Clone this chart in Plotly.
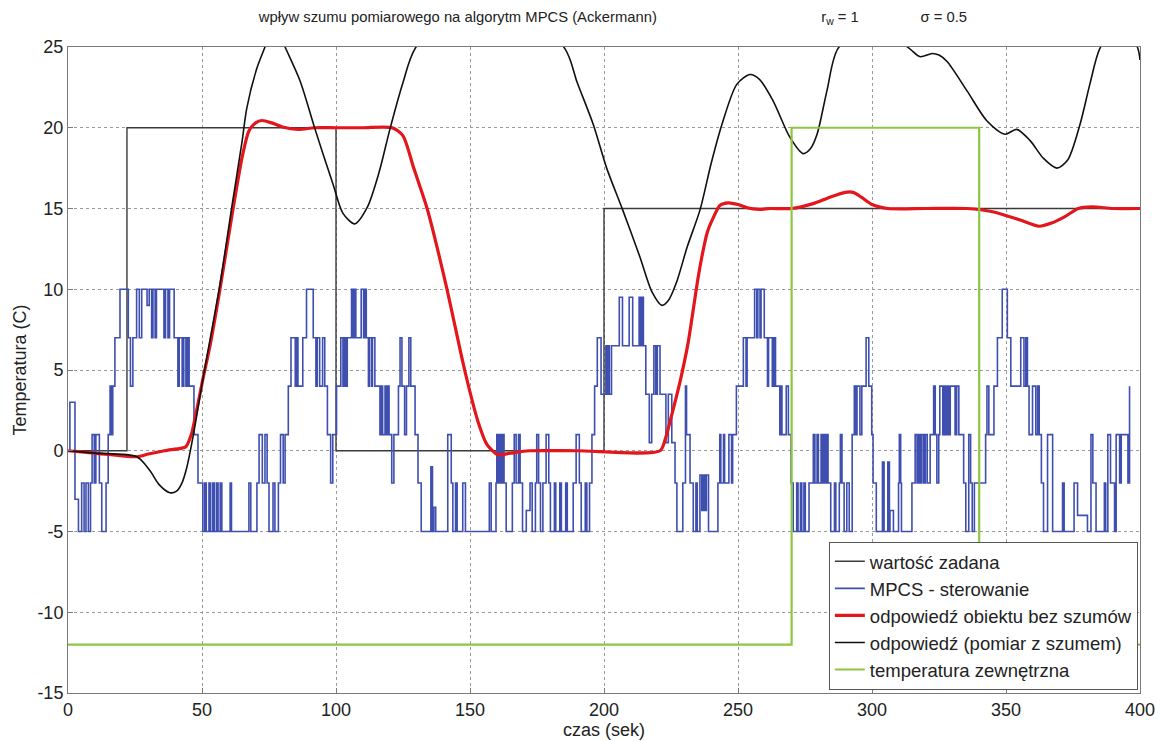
import plotly.graph_objects as go

# ---------------- data ----------------
# setpoint (wartość zadana)
sp_t = [0, 22, 22, 100, 100, 200, 200, 400]
sp_v = [0, 0, 20, 20, 0, 0, 15, 15]

# external temperature (temperatura zewnętrzna)
ext_t = [0, 270, 270, 340, 340, 400]
ext_v = [-12, -12, 20, 20, -12, -12]

# control signal (MPCS - sterowanie), step changes
u_t = [0, 0.7, 2.6, 3.9, 5.1, 6.0, 6.7, 7.6, 8.4, 9.0, 9.8, 10.4, 11.7, 12.6, 14.2, 15.0, 15.7, 16.2, 16.7, 17.5,
       19.4, 22.5, 23.3, 24.2, 25.6, 26.6, 27.5, 29.5, 30.3, 31.2, 31.7, 32.5, 33.0, 35.8, 36.4, 37.3, 37.9, 39.6,
       41.0, 41.5, 42.6, 43.2, 44.0, 44.6, 45.2, 47.0, 48.5,
       50.3, 51.0, 51.6, 52.6, 53.2, 54.0, 54.6, 55.4, 56.0, 56.8, 57.4, 60.5, 61.0, 67.5, 68.2, 70.5, 71.3, 72.5,
       73.5, 74.3, 75.0, 76.5, 77.2, 78.5, 79.3, 80.3, 81.0, 82.2, 83.2, 84.8, 85.3, 85.8, 87.6, 89.0, 91.5, 92.5,
       93.0, 93.9, 95.0, 95.8, 96.8, 98.0, 98.8,
       100.2, 101.8, 102.6, 103.1, 103.6, 104.2, 105.8, 106.4, 106.8, 107.4, 109.4, 110.3, 110.8, 111.3, 112.1,
       112.5, 113.3, 113.6, 114.5, 116.4, 117.0, 117.4, 118.3, 118.8, 119.2, 119.8, 120.8, 121.6, 123.3, 123.9,
       124.6, 125.6, 126.3, 127.2, 127.9, 129.5, 130.6, 131.8, 135.4, 136.0, 136.5, 137.2, 141.7, 143.0, 143.6,
       144.6, 145.2, 147.3, 148.3, 157.2, 157.9, 159.7, 160.0, 160.6, 161.0, 161.6, 162.2, 162.7, 163.5, 165.8,
       166.5, 167.2, 168.1, 168.7, 169.6, 171.0, 172.4, 173.2, 174.4, 174.9, 175.6, 176.3, 177.2, 178.4, 179.4,
       180.0, 181.5, 182.0, 183.5, 184.1, 185.7, 186.3, 188.5, 189.6, 190.8, 191.5, 193.0, 193.6, 194.6, 195.5,
       196.5, 197.5, 198.9,
       200.7, 201.2, 201.6, 202.0, 202.8, 203.5, 205.7, 206.9, 209.4, 210.7, 213.1, 213.6, 214.1, 214.7, 215.6,
       216.9, 217.8, 218.6, 219.3, 219.9, 220.9, 223.1, 224.0, 225.3, 226.5, 227.2, 229.4, 230.4, 230.8, 232.1,
       233.3, 234.3, 234.8, 235.8, 236.5, 237.0, 237.6, 238.2, 239.0, 240.8, 242.5, 243.2, 243.6, 244.6, 245.0,
       246.6, 247.6, 248.0, 249.4, 252.0, 253.0, 253.4, 256.2, 257.0, 257.4, 258.2, 258.6, 259.8, 261.0, 261.4,
       262.8, 263.4, 264.0, 265.6, 266.0, 266.4, 268.0, 268.8, 269.8, 270.6, 271.9, 272.4, 273.3, 273.8, 274.6,
       275.1, 276.5, 278.1, 278.7, 279.5, 280.0, 281.0, 281.5, 281.9, 282.5, 283.0, 283.6, 284.6, 286.0, 286.5,
       287.8, 288.2, 288.8, 289.6, 290.6, 291.5, 292.6, 293.4, 293.8, 294.4, 295.5, 296.2, 297.8, 298.8, 299.9,
       300.4, 301.6, 303.9, 304.5, 305.9, 306.5, 306.7, 308.0, 309.9, 310.2, 310.7, 311.0, 314.9, 316.1, 316.8,
       317.4, 318.0, 318.6, 319.3, 319.9, 320.6, 321.7, 323.0, 323.6, 324.2, 324.9, 325.3, 326.4, 326.9, 327.4,
       328.0, 328.6, 329.2, 331.0, 331.6, 332.4, 334.2, 335.0, 336.1, 336.8, 337.4, 338.2, 342.4, 342.9, 343.6,
       345.5, 346.8, 348.6, 350.5, 351.8, 355.5, 356.7, 357.4, 358.0, 358.6, 359.9, 361.1, 361.8, 362.4, 363.2,
       364.0, 365.5, 367.4, 369.9, 371.1, 371.7, 375.4, 376.7, 380.4, 381.7, 382.4, 383.6, 386.7, 387.2, 388.0,
       389.0, 390.5, 391.1, 392.4, 393.0, 395.5, 396.1, 398.0, 398.6, 399.6]
u_v = [0, 3, -3, -5, -2, -5, -2, -5, -2, 1, -2, 1, -2, -5, -2, 1, 4, 1, 4, 7,
       10, 7, 4, 7, 10, 7, 10, 9, 10, 7, 10, 7, 10, 7, 10, 7, 10, 7,
       4, 7, 4, 7, 4, 7, 4, 1, -2,
       -5, -2, -5, -2, -5, -2, -5, -2, -5, -2, -5, -2, -5, -2, -5, -2, 1, -2,
       1, -2, -5, -2, -5, -2, 1, -2, 1, 4, 7, 4, 7, 4, 7, 10, 7, 4,
       7, 4, 7, 4, 1, -2, 1,
       4, 7, 4, 7, 4, 7, 10, 7, 10, 7, 10, 7, 10, 7, 4,
       7, 4, 7, 4, 1, 4, 1, 4, 1, 4, 1, -2, 1, 4, 7,
       4, 1, 4, 7, 4, 1, -2, -5, -1, -5, -3.5, -5, 1, -2, -5,
       -2, -5, -2, -5, -2, -5, -2, 1, -2, 1, -2, 1, -2, -5, -2,
       1, -2, 1, -2, -5, -3.7, -2, -5, -2, 1, -2, -5, -2, 1, -2,
       -5, -2, -5, -2, -5, -2, -5, -2, 1, -2, -5, -2, -5, -2, 1,
       4, 7, 3.5,
       6.5, 3.5, 6.5, 3.5, 6.5, 6.5, 9.5, 6.5, 9.5, 6.5, 9.5, 6.5, 9.5, 6.5, 3.5,
       0.5, 3.5, 6.5, 3.5, 6.5, 3.5, 0.5, 3.5, 0.5, -2, -5, -2, 4, 1, -2,
       -5, -2, -5, -1.5, -3.7, -1.5, -3.7, -1.5, -5, -5, -2, 1, -2, 1, -2,
       1, -2, 1, 4, 7, 4, 7, 10, 7, 10, 7, 10, 7, 4, 7,
       4, 7, 4, 1, 4, 1, 4, 1, -2, -5, -2, -5, -2, -5, -2,
       -5, -2, 1, -2, 1, -2, 1, -2, 1, -2, 1, -2, -5, -2, -5,
       -2, 1, -2, -5, -2, -5, 1, 4, 1, 4, 1, 4, 7, 4, 1,
       -2, -5, -0.7, -5, -0.7, -5, -3.7, -5, -2, 1, -2, -5, -2, 1, -2,
       1, -2, 1, -2, 1, -2, 1, 4, 1, -2, 1, 4, 1, 4, 1,
       4, 1, 4, 1, 4, 1, -2, -5, 1, -2, -5, -2, 1, 4,
       1, 4, 7, 10, 7, 4, 7, 4, 7, 4, 1, 4, 1, 4,
       1, -2, -5, 1, -5, -5, -2, -5, -2, -4, -5, 1, -2, -5,
       -2, -5, 1, -2, -5, 1, -2, 1, -2, 4]

# response without noise (odpowiedź obiektu bez szumów)
y_t = [0, 10, 25.7, 30, 36, 42, 44, 46, 48, 50.4, 53, 56.7, 61.6, 65, 67.5, 70, 72.4, 76, 80, 86, 92, 100, 110,
       121, 125, 129, 134, 141, 148, 153, 156.3, 160.4, 165, 172, 190, 220.9, 223, 225.4, 228.4, 231.3, 233,
       235, 236.5, 238.5, 240.7, 243.3, 246.3, 250, 253.4, 258, 262, 270, 278, 284.3, 290, 293, 296, 300, 306,
       320, 335.4, 345, 355, 362.3, 367, 372, 377, 382, 390, 400]
y_v = [0, -0.15, -0.37, -0.2, 0, 0.15, 0.25, 1.0, 2.5, 4.5, 6.5, 10, 15, 18.2, 19.8, 20.3, 20.45, 20.3, 20.05,
       19.9, 20.0, 20, 20, 20, 19.5, 17.5, 15, 10.3, 5, 1.8, 0.4, -0.25, -0.15, 0, 0, 0, 0.8, 2.3, 4.3, 6.6, 8.4,
       10.6, 12, 13.5, 14.4, 15.2, 15.35, 15.25, 15.05, 14.95, 15, 15, 15.3, 15.7, 16.0, 16.0, 15.7, 15.25, 15,
       15, 15, 14.8, 14.3, 13.9, 14.1, 14.5, 15.0, 15.1, 15, 15]

# measured response with noise (odpowiedź (pomiar z szumem))
m_t = [0, 10, 25.7, 30.6, 34, 38, 40.5, 42.5, 44.3, 46.8, 50.4, 56.7, 61.5, 65, 66.7, 70.5, 73.5, 77, 81, 86.6,
       92.2, 98.9, 102.6, 107, 111.6, 116, 120.1, 125, 129.5, 155, 185.4, 190, 196, 201, 207, 213.4, 218, 221.6,
       224, 227.2, 231, 235.8, 240, 244, 249.6, 254.5, 258, 263, 269.4, 274.3, 277, 279.5, 283.2, 287.3, 300,
       314, 318, 322.4, 325, 328, 335.4, 343, 349.6, 354, 359, 364, 369, 373, 377.6, 381.3, 385, 392, 399, 400]
m_v = [0, -0.15, -0.37, -1.24, -2.1, -2.6, -2.5, -2.0, -1.05, 1.0, 4.5, 10.3, 15.5, 19.2, 21.2, 23.7, 25, 26.5,
       25, 22.9, 19.9, 16.5, 14.7, 14.05, 15.05, 17.2, 19.9, 22.8, 24.9, 29.5, 24.9, 22.8, 20.2, 17.5, 14.9, 12,
       9.8, 9.0, 9.3, 10.5, 12.6, 14.9, 17.8, 20.2, 22.7, 23.3, 23.0, 21.7, 19.4, 18.4, 18.7, 19.6, 22.3, 24.9,
       26.5, 24.9, 24.4, 24.6, 24.5, 24.1, 22.3, 20.4, 19.6, 19.9, 19.2, 18.1, 17.5, 18.0, 20.2, 22.7, 24.9, 26.5,
       25.0, 24.2]

x_ticks = [0, 50, 100, 150, 200, 250, 300, 350, 400]
y_ticks = [-15, -10, -5, 0, 5, 10, 15, 20, 25]

names = ["wartość zadana", "MPCS - sterowanie", "odpowiedź obiektu bez szumów",
         "odpowiedź (pomiar z szumem)", "temperatura zewnętrzna"]

# ---------------- figure ----------------
FONT = "Liberation Sans, Arial, sans-serif"
fig = go.Figure()
fig.add_trace(go.Scatter(x=sp_t, y=sp_v, mode="lines", name=names[0],
                         line=dict(color="#3a3a3a", width=1.4)))
fig.add_trace(go.Scatter(x=u_t, y=u_v, mode="lines", name=names[1],
                         line=dict(color="#3f4fb0", width=1.6, shape="hv")))
fig.add_trace(go.Scatter(x=y_t, y=y_v, mode="lines", name=names[2],
                         line=dict(color="#e3161b", width=3.2, shape="spline", smoothing=0.7)))
fig.add_trace(go.Scatter(x=m_t, y=m_v, mode="lines", name=names[3],
                         line=dict(color="#111111", width=1.6, shape="spline", smoothing=0.8)))
fig.add_trace(go.Scatter(x=ext_t, y=ext_v, mode="lines", name=names[4],
                         line=dict(color="#8dc63f", width=2.2)))

nb = "\u00a0"
title = ("wpływ szumu pomiarowego na algorytm MPCS (Ackermann)" + nb * 40 +
         "r<sub>w</sub> = 1" + nb * 15 + "σ = 0.5")

axis_common = dict(showline=True, linecolor="#7a7a7a", linewidth=1, mirror=True,
                   ticks="inside", ticklen=5, tickcolor="#7a7a7a",
                   showgrid=True, gridcolor="#9a9a9a", griddash="dot", gridwidth=1,
                   zeroline=False, tickfont=dict(size=18, color="#222", family=FONT))

fig.update_layout(
    width=1167, height=741,
    margin=dict(l=60, r=35, t=39, b=56),
    paper_bgcolor="white", plot_bgcolor="white",
    font=dict(family=FONT, size=18, color="#222"),
    title=dict(text=title, x=0.5184, xanchor="center", y=0.988, yanchor="middle",
               font=dict(size=14.8, color="#222", family=FONT)),
    xaxis=dict(range=[0, 400], tickvals=x_ticks, ticktext=[str(v) for v in x_ticks],
               title=dict(text="czas (sek)", standoff=0, font=dict(size=18)), **axis_common),
    yaxis=dict(range=[-15, 25], tickvals=y_ticks, ticktext=[str(v) for v in y_ticks],
               title=dict(text="Temperatura (C)", standoff=6, font=dict(size=18)), **axis_common),
    legend=dict(x=0.998, y=0.005, xanchor="right", yanchor="bottom",
                bgcolor="white", bordercolor="#555", borderwidth=1,
                font=dict(size=18.5, color="#222", family=FONT),
                tracegroupgap=0, itemwidth=30),
    showlegend=True,
)

fig.write_html("out.html")
